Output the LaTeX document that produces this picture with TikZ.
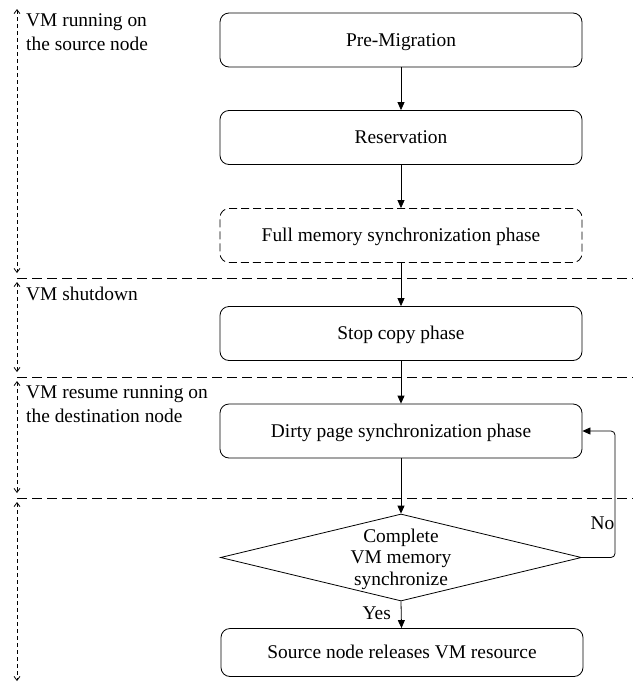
\documentclass[tikz,border=0pt]{standalone}
\usepackage{fontspec}
\setmainfont{Liberation Serif}
\usetikzlibrary{shapes.geometric,arrows.meta}

\begin{document}
\begin{tikzpicture}[x=1pt,y=-1pt,
  txt/.style={font=\fontsize{19.4}{23.5}\selectfont},
  phase/.style={txt, draw, line width=0.8pt, rounded corners=9pt,
    minimum width=362pt, minimum height=54pt, inner sep=0pt,
    text height=13pt, text depth=0.5pt},
  optphase/.style={phase, dash pattern=on 8pt off 4pt},
  decision/.style={draw, line width=0.8pt, diamond, inner sep=0pt,
    minimum width=361pt, minimum height=87pt},
  flow/.style={line width=0.8pt, -{Triangle[length=8pt,width=7pt]}},
  divider/.style={line width=1pt, dash pattern=on 10pt off 5pt},
  span/.style={line width=0.8pt, dash pattern=on 4pt off 3pt,
    {Straight Barb[length=4pt,width=6pt]}-{Straight Barb[length=4pt,width=6pt]}},
  stage/.style={txt, anchor=north west, align=left, inner sep=0pt}
]
\useasboundingbox (0,0) rectangle (633,683);

% process steps
\node[phase]    (pre)   at (401,40)    {Pre-Migration};
\node[phase]    (res)   at (401,137.5) {Reservation};
\node[optphase] (full)  at (401,235.5) {Full memory synchronization phase};
\node[phase]    (stop)  at (401,333.5) {Stop copy phase};
\node[phase]    (dirty) at (401,431)   {Dirty page synchronization phase};
\node[decision] (dec)   at (401,557.5) {};
\node[font=\fontsize{19.4}{21.5}\selectfont, align=center, inner sep=0pt, anchor=north]
  (dectext) at (401,528.8) {Complete\\VM memory\\synchronize};
\node[phase, minimum height=48pt] (rel) at (402,652.5) {Source node releases VM resource};

% stage dividers
\coordinate (d1l) at (17,278);  \coordinate (d1r) at (633,278);
\coordinate (d2l) at (17,377);  \coordinate (d2r) at (633,377);
\coordinate (d3l) at (17,498);  \coordinate (d3r) at (633,498);
\draw[divider] (d1l) -- (d1r);
\draw[divider] (d2l) -- (d2r);
\draw[divider] (d3l) -- (d3r);

% stage extents
\coordinate (s1a) at (17,9);   \coordinate (s1b) at (17,273);
\coordinate (s2a) at (17,282); \coordinate (s2b) at (17,372);
\coordinate (s3a) at (17,381); \coordinate (s3b) at (17,493);
\coordinate (s4a) at (17,502); \coordinate (s4b) at (17,681);
\draw[span] (s1a) -- (s1b);
\draw[span] (s2a) -- (s2b);
\draw[span] (s3a) -- (s3b);
\draw[span] (s4a) -- (s4b);

% stage labels
\node[stage] (l1) at (26,13.5)  {VM running on\\the source node};
\node[stage] (l2) at (26,287)   {VM shutdown};
\node[stage] (l3) at (26,385.5) {VM resume running on\\the destination node};

% flow
\draw[flow] (pre)   -- (res);
\draw[flow] (res)   -- (full);
\draw[flow] (full)  -- (stop);
\draw[flow] (stop)  -- (dirty);
\draw[flow] (dirty) -- (dec.north);
\draw[flow] (dec.south) -- node[txt, anchor=base east, inner sep=0pt, pos=0.5, xshift=-10pt, yshift=-5pt] (yes) {Yes} (rel);
\coordinate (lb) at (615,557.5);
\coordinate (lt) at (615,431);
\draw[flow, rounded corners=4pt] (dec.east) -- (lb) -- (lt) -- (dirty.east);
\node[txt, anchor=base east, inner sep=0pt] (no) at (614.5,529) {No};
\end{tikzpicture}
\end{document}
